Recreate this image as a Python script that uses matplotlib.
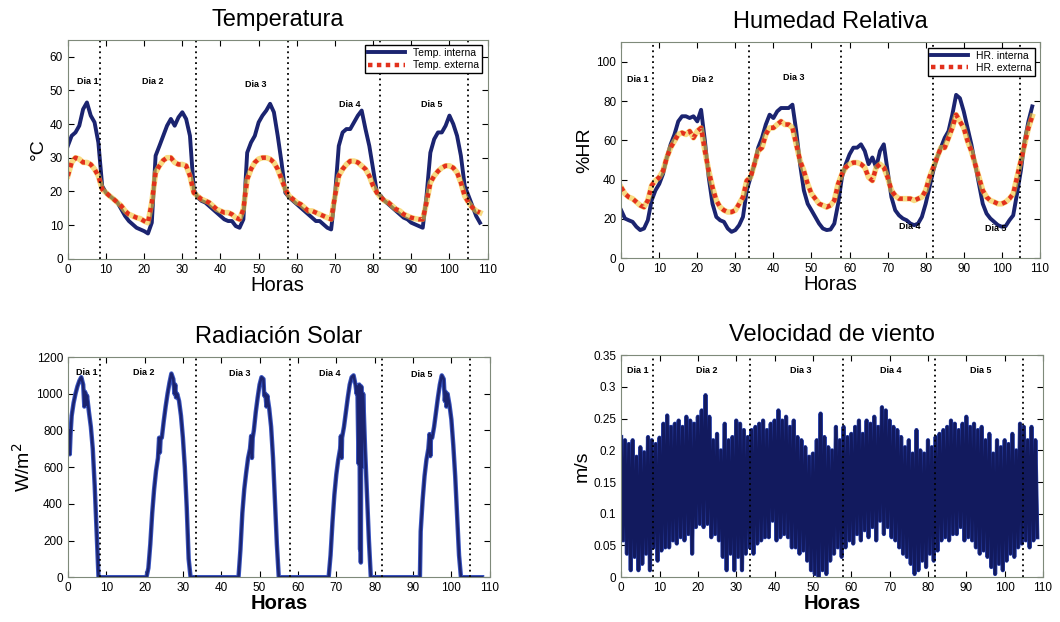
import numpy as np
import matplotlib.pyplot as plt

plt.rcParams['font.family'] = ['Liberation Sans', 'DejaVu Sans']

# horas de medición (una lectura por hora)
horas = np.arange(0, 109)

temp_int = [33.5, 36.5, 37.5, 39.5, 44.4, 46.4, 42.5, 40.5, 34.5, 21.6,
            19.6, 18.6, 17.7, 16.7, 14.7, 12.7, 11.2, 10.2, 9.2, 8.7,
            8.2, 7.5, 10.7, 30.6, 33.5, 36.5, 39.5, 41.5, 39.5, 42.0,
            43.5, 41.5, 36.5, 20.6, 18.2, 17.2, 16.7, 15.7, 14.7, 13.7,
            12.7, 11.7, 11.2, 11.2, 9.7, 9.2, 11.7, 31.5, 34.5, 36.5,
            40.5, 42.5, 44.0, 46.0, 43.5, 36.5, 28.6, 19.6, 18.2, 17.2,
            16.2, 15.2, 14.2, 13.2, 12.2, 11.2, 11.2, 10.2, 9.2, 8.7,
            18.7, 33.5, 37.5, 38.5, 38.5, 40.5, 42.5, 44.0, 38.5, 33.5,
            26.6, 19.6, 18.7, 17.2, 16.2, 15.2, 14.2, 13.2, 12.2, 11.7,
            10.7, 10.2, 9.7, 9.2, 18.7, 31.5, 35.5, 37.5, 37.5, 39.5,
            42.5, 40.0, 36.5, 30.6, 21.6, 18.7, 15.7, 12.7, 10.7]

temp_ext = [24.6, 28.6, 30.0, 29.6, 28.6, 28.6, 28.0, 26.6, 24.6, 20.6,
            19.6, 18.6, 17.7, 16.7, 15.7, 14.2, 13.2, 12.7, 12.2, 11.9,
            11.2, 10.7, 16.7, 25.6, 27.6, 29.2, 30.0, 30.0, 28.6, 28.0,
            28.0, 27.6, 24.6, 19.6, 18.6, 17.7, 17.2, 16.7, 15.7, 14.7,
            14.2, 13.7, 13.7, 13.2, 12.2, 11.7, 14.7, 23.6, 26.6, 28.6,
            29.6, 30.0, 30.0, 29.6, 28.6, 26.6, 23.6, 20.6, 18.6, 17.7,
            16.7, 16.2, 15.2, 14.2, 14.2, 13.7, 13.2, 12.7, 12.2, 11.7,
            18.6, 24.6, 26.6, 28.0, 29.0, 29.0, 28.6, 27.6, 26.6, 24.6,
            21.6, 19.6, 18.2, 17.2, 16.7, 15.7, 14.7, 14.2, 13.2, 12.7,
            12.2, 11.9, 11.7, 11.7, 16.7, 22.6, 24.6, 26.0, 27.0, 27.6,
            27.6, 27.0, 25.6, 22.6, 18.6, 16.7, 15.2, 14.2, 13.7]

hr_int = [24.4, 20.2, 19.3, 18.5, 16.0, 14.3, 15.1, 19.3, 29.4, 34.5,
          37.8, 42.9, 51.3, 58.0, 63.0, 69.7, 72.3, 72.3, 71.4, 72.3,
          69.7, 75.6, 59.7, 41.2, 27.7, 21.0, 19.3, 18.5, 15.1, 13.4,
          14.3, 16.8, 21.0, 34.5, 41.2, 47.9, 56.3, 61.3, 68.1, 73.1,
          71.4, 74.8, 76.5, 76.5, 76.5, 78.2, 64.7, 47.9, 34.5, 27.7,
          24.4, 21.0, 17.6, 15.1, 14.3, 14.6, 17.6, 27.7, 41.2, 47.9,
          52.9, 56.3, 56.3, 58.0, 54.6, 47.9, 51.3, 46.2, 54.6, 58.0,
          44.5, 31.1, 24.4, 21.8, 20.2, 19.3, 17.6, 16.8, 17.6, 21.0,
          27.7, 36.1, 44.5, 51.3, 56.3, 61.3, 64.7, 73.1, 83.2, 81.5,
          74.8, 66.4, 58.0, 47.9, 37.8, 27.7, 22.7, 20.2, 18.5, 16.8,
          16.0, 16.3, 19.3, 21.8, 32.8, 44.5, 59.7, 69.7, 77.3]

hr_ext = [36.1, 32.8, 31.1, 30.3, 28.6, 26.9, 26.0, 29.4, 37.0, 39.5,
          41.2, 44.5, 51.3, 56.3, 59.7, 63.0, 63.9, 63.0, 64.7, 61.3,
          64.7, 66.4, 54.6, 44.5, 36.1, 29.4, 26.0, 24.4, 23.5, 23.5,
          24.4, 27.7, 31.1, 39.5, 41.2, 47.9, 54.6, 56.3, 63.0, 66.4,
          66.4, 68.1, 69.7, 68.1, 68.1, 66.4, 58.0, 49.6, 44.5, 37.8,
          32.8, 30.3, 27.7, 26.9, 26.0, 26.9, 29.4, 37.8, 42.9, 46.2,
          47.9, 48.7, 48.7, 47.9, 46.2, 41.2, 39.5, 46.2, 47.9, 46.2,
          41.2, 34.5, 31.9, 30.3, 30.3, 30.3, 30.3, 29.4, 30.3, 31.1,
          34.5, 41.2, 46.2, 51.3, 56.3, 56.3, 61.3, 66.4, 73.1, 69.7,
          66.4, 59.7, 54.6, 47.9, 41.2, 34.5, 31.1, 29.4, 28.6, 27.7,
          27.7, 28.6, 30.3, 32.8, 41.2, 49.6, 58.0, 66.4, 72.3]

# radiación solar: instantes (h) y valores (W/m2)
rad_horas = [0, 0.3, 0.5, 0.7, 1, 1.5, 2, 2.5, 3, 3.5, 4, 4.3, 4.5, 4.8, 5,
             5.5, 6, 6.5, 7, 7.5, 8, 8.2,
             20.5, 21, 21.5, 22, 22.5, 23, 23.5, 23.8, 24, 24.2, 24.5, 25,
             25.5, 26, 26.5, 27, 27.5, 27.8, 28, 28.2, 28.5, 29, 29.5, 30,
             30.5, 31, 31.5, 32, 44.5, 45, 45.5, 46, 46.5, 47, 47.5, 47.8,
             48, 48.2, 48.5, 49, 49.5, 50, 50.5, 51, 51.2, 51.5, 51.8, 52,
             52.5, 53, 53.5, 54, 54.5, 55, 68, 68.5, 69, 69.5, 70, 70.5,
             71, 71.2, 71.4, 71.5, 72, 72.5, 73, 73.5, 74, 74.5, 75, 75.3,
             75.5, 75.8, 76, 76.2, 76.3, 76.4, 76.5, 76.6, 77, 77.5, 78,
             78.5, 79, 91.8, 92, 92.5, 93, 93.5, 94, 94.3, 94.5, 94.7, 95,
             95.5, 96, 96.5, 97, 97.5, 98, 98.3, 98.5, 98.7, 99, 99.5,
             100, 100.5, 101, 101.5, 102, 102.5, 108]
rad_vals = [700, 800, 670, 780, 880, 950, 1000, 1040, 1070, 1090, 1050, 930,
            1010, 940, 990, 900, 820, 700, 500, 250, 0, 0,
            0, 50, 180, 350, 480, 580, 650, 760, 680, 760, 760, 850,
            930, 1000, 1060, 1110, 1080, 1000, 1050, 980, 1000, 960, 880, 760,
            600, 380, 100, 0, 0, 150, 350, 480, 570, 650, 700, 770,
            650, 760, 800, 900, 980, 1050, 1090, 1080, 990, 1000, 930, 990,
            920, 820, 650, 420, 180, 0, 0, 120, 300, 450, 560, 640,
            700, 770, 650, 760, 820, 900, 980, 1050, 1090, 1100, 1050, 1000,
            1040, 620, 1050, 150, 1000, 80, 1040, 600, 1000, 700, 450,
            200, 0, 0, 250, 420, 550, 640, 700, 780, 660, 770, 760,
            820, 900, 980, 1050, 1100, 1080, 960, 1010, 930, 1000, 940,
            860, 720, 550, 330, 120, 0, 0]

# velocidad de viento: máximos y mínimos por hora
viento_max = [0.221, 0.216, 0.210, 0.216, 0.190, 0.205, 0.197, 0.221, 0.216, 0.210,
              0.220, 0.242, 0.255, 0.237, 0.242, 0.247, 0.237, 0.253, 0.247, 0.242,
              0.253, 0.263, 0.287, 0.253, 0.216, 0.226, 0.200, 0.242, 0.216, 0.221,
              0.247, 0.242, 0.232, 0.221, 0.232, 0.237, 0.242, 0.247, 0.232, 0.242,
              0.247, 0.263, 0.247, 0.253, 0.237, 0.247, 0.221, 0.216, 0.205, 0.190,
              0.195, 0.216, 0.258, 0.221, 0.205, 0.200, 0.237, 0.216, 0.237, 0.221,
              0.226, 0.237, 0.247, 0.226, 0.247, 0.242, 0.253, 0.237, 0.268, 0.263,
              0.247, 0.237, 0.232, 0.221, 0.205, 0.216, 0.195, 0.232, 0.200, 0.195,
              0.216, 0.205, 0.221, 0.226, 0.232, 0.237, 0.247, 0.242, 0.232, 0.242,
              0.253, 0.237, 0.242, 0.232, 0.237, 0.216, 0.226, 0.195, 0.216, 0.205,
              0.216, 0.210, 0.226, 0.200, 0.242, 0.237, 0.216, 0.237, 0.216]
viento_min = [0.058, 0.037, 0.011, 0.032, 0.011, 0.021, 0.037, 0.011, 0.047, 0.026,
              0.042, 0.047, 0.047, 0.058, 0.053, 0.063, 0.058, 0.068, 0.037, 0.079,
              0.084, 0.079, 0.084, 0.063, 0.068, 0.058, 0.032, 0.011, 0.037, 0.011,
              0.032, 0.011, 0.037, 0.047, 0.037, 0.053, 0.058, 0.063, 0.063, 0.089,
              0.058, 0.063, 0.068, 0.063, 0.047, 0.047, 0.037, 0.042, 0.026, 0.011,
              0.005, 0.000, 0.011, 0.005, 0.026, 0.037, 0.047, 0.032, 0.047, 0.058,
              0.053, 0.068, 0.058, 0.074, 0.063, 0.079, 0.058, 0.089, 0.068, 0.079,
              0.063, 0.058, 0.047, 0.037, 0.032, 0.021, 0.005, 0.011, 0.026, 0.016,
              0.037, 0.026, 0.042, 0.058, 0.063, 0.058, 0.068, 0.068, 0.079, 0.058,
              0.063, 0.058, 0.047, 0.037, 0.042, 0.032, 0.016, 0.005, 0.021, 0.011,
              0.026, 0.037, 0.032, 0.047, 0.053, 0.058, 0.047, 0.058, 0.063]

# separación entre días y etiquetas
cortes_dia = [8.3, 33.5, 57.8, 81.8, 104.8]
dias = ['Dia 1', 'Dia 2', 'Dia 3', 'Dia 4', 'Dia 5']
pos_temp = [(2.5, 52), (19.5, 52), (46.5, 51), (71, 45), (92.5, 45)]
pos_hr = [(1.5, 90), (18.5, 90), (42.5, 91), (73, 15), (95.5, 14)]
pos_rad = [(2.0, 1100), (17.0, 1100), (42.0, 1095), (65.5, 1095), (89.5, 1090)]
pos_viento = [(1.5, 0.322), (19.5, 0.322), (44.0, 0.322), (67.5, 0.322), (91.0, 0.322)]

azul = '#1b2470'
rojo = '#e2301c'

fig = plt.figure(figsize=(10.6, 6.22), dpi=100)
ax1 = fig.add_axes([0.064, 0.584, 0.396, 0.352])
ax2 = fig.add_axes([0.586, 0.585, 0.395, 0.347])
ax3 = fig.add_axes([0.064, 0.072, 0.398, 0.354])
ax4 = fig.add_axes([0.586, 0.072, 0.398, 0.357])


def formato(ax, titulo, ylabel, ylim, yticks, pos, negrita=False):
    ax.set_xlim(0, 110)
    ax.set_xticks(range(0, 111, 10))
    ax.set_ylim(*ylim)
    ax.set_yticks(yticks)
    ax.tick_params(direction='in', top=True, right=True, labelsize=8.5, length=4)
    for s in ax.spines.values():
        s.set_color('#7f8a7a')
    ax.set_title(titulo, fontsize=17, pad=10)
    ax.set_xlabel('Horas', fontsize=14.5, labelpad=0,
                  fontweight='bold' if negrita else 'normal')
    ax.set_ylabel(ylabel, fontsize=14, labelpad=2)
    for c in cortes_dia:
        ax.axvline(c, color='black', ls=(0, (1, 2)), lw=1.3)
    for d, (x, y) in zip(dias, pos):
        ax.text(x, y, d, fontsize=6.5, fontweight='bold')


ax1.plot(horas, temp_int, color=azul, lw=2.8, label='Temp. interna')
ax1.plot(horas, temp_ext, color='#f4c430', lw=4, alpha=0.6)
ax1.plot(horas, temp_ext, color=rojo, lw=3.2, ls=(0, (1, 1)), label='Temp. externa')
formato(ax1, 'Temperatura', '°C', (0, 65), range(0, 61, 10), pos_temp)
ax1.legend(loc='upper right', fontsize=7.5, fancybox=False, edgecolor='black',
           borderpad=0.3, labelspacing=0.2, handlelength=3.5, framealpha=1)

ax2.plot(horas, hr_int, color=azul, lw=2.8, label='HR. interna')
ax2.plot(horas, hr_ext, color='#f4c430', lw=4, alpha=0.6)
ax2.plot(horas, hr_ext, color=rojo, lw=3.2, ls=(0, (1, 1)), label='HR. externa')
formato(ax2, 'Humedad Relativa', '%HR', (0, 110), range(0, 101, 20), pos_hr)
ax2.legend(loc='upper right', fontsize=7.5, fancybox=False, edgecolor='black',
           borderpad=0.3, labelspacing=0.2, handlelength=3.5, framealpha=1)

ax3.plot(rad_horas, rad_vals, color='#3a55c0', lw=3.2)
ax3.plot(rad_horas, rad_vals, color=azul, lw=1.8)
formato(ax3, 'Radiación Solar', 'W/m$^2$', (0, 1200), range(0, 1201, 200),
        pos_rad, negrita=True)

# señal de viento en zigzag entre máximos y mínimos
t_viento = np.ravel(np.column_stack([horas, horas + 0.5]))
v_viento = np.ravel(np.column_stack([viento_max, viento_min]))
ax4.plot(t_viento, v_viento, color='#2c45b0', lw=3.0)
ax4.plot(t_viento, v_viento, color='#121a5e', lw=2.2)
formato(ax4, 'Velocidad de viento', 'm/s', (0, 0.35),
        np.arange(0, 0.351, 0.05), pos_viento, negrita=True)
ax4.set_yticklabels(['0', '0.05', '0.1', '0.15', '0.2', '0.25', '0.3', '0.35'])

fig.savefig('out.png', dpi=100)
